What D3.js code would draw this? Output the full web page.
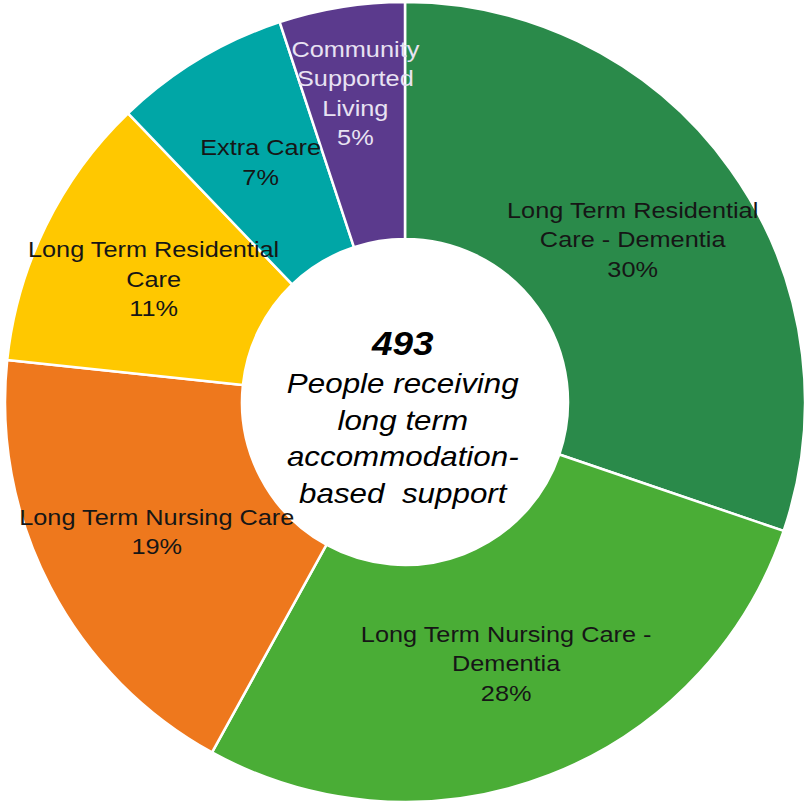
<!DOCTYPE html>
<html>
<head>
<meta charset="utf-8">
<script src="https://cdn.jsdelivr.net/npm/d3@7"></script>
<style>
  html, body { margin: 0; padding: 0; background: #fff; }
  svg { display: block; }
  text { font-family: "Liberation Sans", Arial, sans-serif; white-space: pre; }
</style>
</head>
<body>
<svg id="chart" width="807" height="804"></svg>
<script>
// Data
const categories = [
  "Long Term Residential Care - Dementia",
  "Long Term Nursing Care - Dementia",
  "Long Term Nursing Care",
  "Long Term Residential Care",
  "Extra Care",
  "Community Supported Living"
];
const labelLines = [
  ["Long Term Residential", "Care - Dementia"],
  ["Long Term Nursing Care -", "Dementia"],
  ["Long Term Nursing Care"],
  ["Long Term Residential", "Care"],
  ["Extra Care"],
  ["Community", "Supported", "Living"]
];
const values = [149, 137, 92, 55, 35, 25];
const colors = ["#2a8a4a", "#4aad36", "#ee781d", "#ffc800", "#00a6a6", "#5b3a8d"];
const labelColors = ["#161616", "#161616", "#161616", "#161616", "#161616", "#e8e2f2"];
const centerTitle = "493";
const centerLines = ["People receiving", "long term", "accommodation-", "based  support"];

const svg = d3.select("#chart");
const cx = 405, cy = 402, rOuter = 400, rInner = 163;
const total = d3.sum(values);

const data = categories.map((c, i) => ({ name: c, value: values[i], i }));
const pie = d3.pie().sort(null).value(d => d.value);
const arcs = pie(data);
const arc = d3.arc().innerRadius(rInner).outerRadius(rOuter);

const g = svg.append("g").attr("transform", `translate(${cx},${cy})`);

g.selectAll("path.slice").data(arcs).join("path")
  .attr("class", "slice")
  .attr("d", arc)
  .attr("fill", d => colors[d.data.i])
  .attr("stroke", "#fff")
  .attr("stroke-width", 2.5)
  .attr("stroke-linejoin", "round");

// Labels
const fs = 22.6, lh = 29.5, sx = 1.12;
arcs.forEach(d => {
  const span = d.endAngle - d.startAngle;
  const lr = span < 0.4 ? 313 : 280;
  const [lx, ly] = d3.arc().innerRadius(lr).outerRadius(lr).centroid(d);
  const lines = labelLines[d.data.i].concat([Math.round(d.data.value / total * 100) + "%"]);
  const n = lines.length;
  const lg = g.append("g").attr("transform", `translate(${lx},${ly}) scale(${sx},1)`);
  lines.forEach((t, k) => {
    lg.append("text")
      .attr("x", 0)
      .attr("y", (k - (n - 1) / 2) * lh + fs * 0.36)
      .attr("text-anchor", "middle")
      .attr("font-size", fs)
      .attr("fill", labelColors[d.data.i])
      .text(t);
  });
});

// Center text
const cg = g.append("g").attr("transform", `scale(${sx},1)`);
cg.append("text")
  .attr("x", -2).attr("y", -47)
  .attr("text-anchor", "middle")
  .attr("font-size", 33)
  .attr("font-weight", "bold")
  .attr("font-style", "italic")
  .attr("fill", "#000")
  .text(centerTitle);
centerLines.forEach((t, k) => {
  cg.append("text")
    .attr("x", -2).attr("y", -9 + k * 36.7)
    .attr("text-anchor", "middle")
    .attr("font-size", 28)
    .attr("font-style", "italic")
    .attr("fill", "#000")
    .text(t);
});
</script>
</body>
</html>
